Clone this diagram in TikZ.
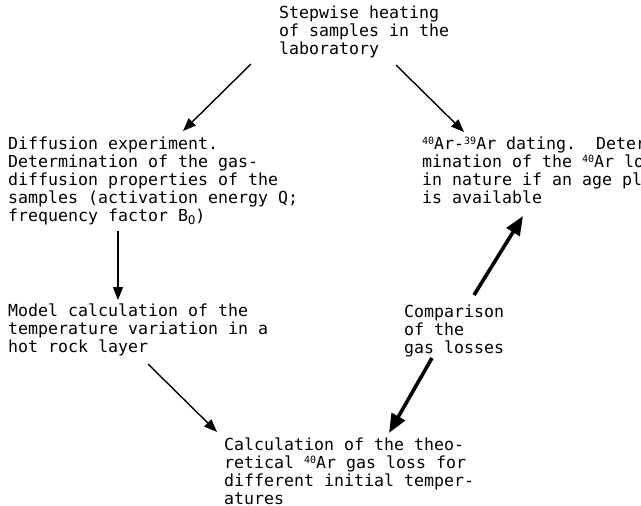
\documentclass[tikz,border=0pt]{standalone}
\usepackage{fontspec}
\newfontfamily\typewr{DejaVu Sans Mono}
\usetikzlibrary{arrows.meta}
\newcommand\upnum[1]{\raisebox{0.55ex}{\fontsize{10}{10}\selectfont #1}}
\newcommand\downlet[1]{\raisebox{-0.4ex}{\fontsize{12}{12}\selectfont #1}}

\begin{document}
\begin{tikzpicture}[x=1pt, y=-1pt,
  txt/.style={anchor=north west, inner sep=0pt, align=left,
    font=\typewr\fontsize{16.6}{17.8}\selectfont\frenchspacing},
  arr/.style={-{Triangle[length=13pt,width=10pt]}, line width=1.4pt},
  fatarr/.style={-{Triangle[length=19pt,width=15pt]}, line width=3.6pt},
]
\useasboundingbox (0,0) rectangle (641,506);
\clip (0,0) rectangle (641,506);

% text blocks
\node[txt] (heat) at (279,6) {Stepwise heating\\of samples in the\\laboratory};
\node[txt] (diff) at (8,137) {Diffusion experiment.\\Determination of the gas-\\diffusion properties of the\\samples (activation energy Q;\\frequency factor B\downlet{O})};
\node[txt] (dating) at (422,137) {\upnum{40}Ar-\upnum{39}Ar dating.\ \ Deter-\\mination of the \upnum{40}Ar loss\\in nature if an age plateau\\is available};
\node[txt] (model) at (8,304) {Model calculation of the\\temperature variation in a\\hot rock layer};
\node[txt] (comp) at (404,305) {Comparison\\of the\\gas losses};
\node[txt] (calc) at (224,438) {Calculation of the theo-\\retical \upnum{40}Ar gas loss for\\different initial temper-\\atures};

% arrows
\draw[arr] ([shift={(-28,58)}]heat.north west) -- ([shift={(175,-6)}]diff.north west);
\draw[arr] ([shift={(117,59)}]heat.north west) -- ([shift={(42,-5)}]dating.north west);
\draw[arr] ([shift={(110,94)}]diff.north west) -- ([shift={(110,-4)}]model.north west);
\draw[arr] ([shift={(140,60)}]model.north west) -- ([shift={(-7,-6)}]calc.north west);
\draw[fatarr] ([shift={(70,-10)}]comp.north west) -- ([shift={(101,79)}]dating.north west);
\draw[fatarr] ([shift={(28,53)}]comp.north west) -- ([shift={(165,-5)}]calc.north west);
\end{tikzpicture}
\end{document}
